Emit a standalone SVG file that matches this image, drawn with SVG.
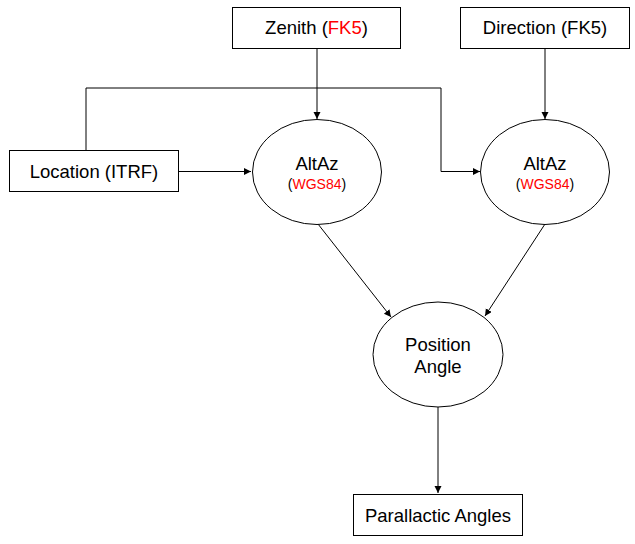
<svg xmlns="http://www.w3.org/2000/svg" width="635" height="544" viewBox="0 0 635 544">
<style>
.box{fill:#fff;stroke:#000;stroke-width:1}
.ell{fill:#fff;stroke:#000;stroke-width:1}
.t{font-family:"Liberation Sans",Arial,sans-serif;font-size:18.5px;fill:#000;text-anchor:middle}
.s{font-family:"Liberation Sans",Arial,sans-serif;font-size:14px;fill:#000;text-anchor:middle}
.red{fill:#ff0000}
.c{fill:none;stroke:#000;stroke-width:1}
</style>
<defs>
<marker id="ah" markerWidth="8" markerHeight="8" refX="7" refY="3.5" orient="auto" markerUnits="userSpaceOnUse">
<path d="M0,0 L7,3.5 L0,7 z" fill="#000"/>
</marker>
</defs>
<rect width="635" height="544" fill="#fff"/>
<g id="connectors">
<path class="c" d="M317,48 V119" marker-end="url(#ah)"/>
<path class="c" d="M545,48 V119" marker-end="url(#ah)"/>
<path class="c" d="M178,171.5 H251" marker-end="url(#ah)"/>
<path class="c" d="M86,150 V88 H441 V171.5 H480" marker-end="url(#ah)"/>
<path class="c" d="M318,224 L391,317" marker-end="url(#ah)"/>
<path class="c" d="M545,224 L485,316" marker-end="url(#ah)"/>
<path class="c" d="M438,407 V493" marker-end="url(#ah)"/>
</g>
<g id="zenith">
<rect class="box" x="232.5" y="7.5" width="168" height="41"/>
<text class="t" x="316.5" y="33.5">Zenith (<tspan class="red">FK5</tspan>)</text>
</g>
<g id="direction">
<rect class="box" x="460.5" y="7.5" width="169" height="41"/>
<text class="t" x="545" y="33.5">Direction (FK5)</text>
</g>
<g id="location">
<rect class="box" x="9.5" y="150.5" width="169" height="41"/>
<text class="t" x="94" y="177.5">Location (ITRF)</text>
</g>
<g id="altaz1">
<ellipse class="ell" cx="317" cy="172" rx="64.5" ry="52.5"/>
<text class="t" x="317" y="169.5">AltAz</text>
<text class="s" x="317" y="189">(<tspan class="red">WGS84</tspan>)</text>
</g>
<g id="altaz2">
<ellipse class="ell" cx="545" cy="172" rx="64.5" ry="52.5"/>
<text class="t" x="545" y="169.5">AltAz</text>
<text class="s" x="545" y="189">(<tspan class="red">WGS84</tspan>)</text>
</g>
<g id="position-angle">
<ellipse class="ell" cx="438" cy="354.5" rx="65" ry="52.5"/>
<text class="t" x="438" y="350.5">Position</text>
<text class="t" x="438" y="372.5">Angle</text>
</g>
<g id="parallactic">
<rect class="box" x="353.5" y="494.5" width="169" height="41"/>
<text class="t" x="438" y="521.5">Parallactic Angles</text>
</g>
</svg>
